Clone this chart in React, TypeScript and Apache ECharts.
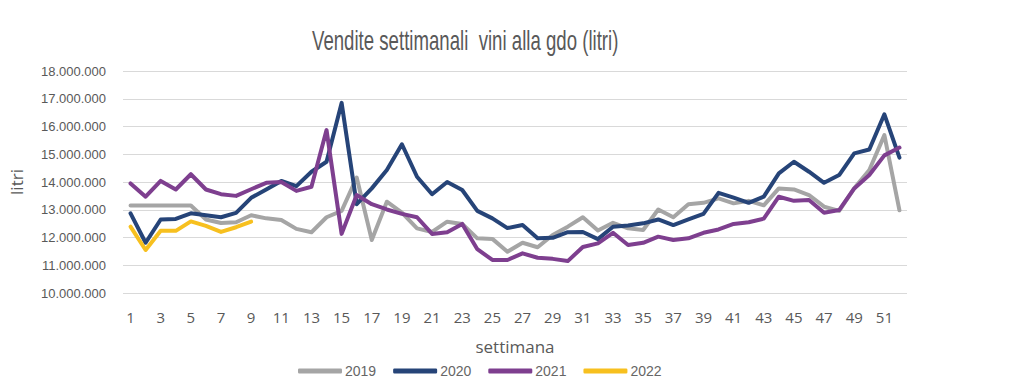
import React, { useEffect, useRef } from "react";
import * as echarts from "echarts";

const weeks = Array.from({ length: 52 }, (_, i) => String(i + 1));

const s2019 = [
  13.15, 13.15, 13.15, 13.15, 13.15, 12.65, 12.52, 12.55, 12.8, 12.69,
  12.63, 12.31, 12.19, 12.73, 12.96, 14.16, 11.91, 13.29, 12.9, 12.33,
  12.2, 12.57, 12.49, 11.97, 11.95, 11.49, 11.81, 11.65, 12.09, 12.39,
  12.73, 12.25, 12.53, 12.33, 12.27, 13.01, 12.73, 13.2, 13.25, 13.41,
  13.23, 13.32, 13.16, 13.77, 13.73, 13.53, 13.11, 12.96, 13.77, 14.43,
  15.69, 12.98,
];
const s2020 = [
  12.87, 11.81, 12.65, 12.67, 12.87, 12.8, 12.73, 12.89, 13.43, 13.73,
  14.04, 13.85, 14.37, 14.73, 16.85, 13.2, 13.77, 14.43, 15.36, 14.19,
  13.56, 14.0, 13.71, 12.96, 12.69, 12.34, 12.45, 11.97, 11.99, 12.19,
  12.2, 11.94, 12.39, 12.43, 12.51, 12.65, 12.45, 12.65, 12.85, 13.61,
  13.44, 13.25, 13.47, 14.31, 14.73, 14.37, 13.97, 14.25, 15.03, 15.17,
  16.44, 14.88,
];
const s2021 = [
  13.95, 13.47, 14.04, 13.73, 14.28, 13.73, 13.56, 13.5, 13.74, 13.97,
  14.0, 13.68, 13.83, 15.87, 12.13, 13.53, 13.2, 13.01, 12.85, 12.73,
  12.13, 12.19, 12.49, 11.58, 11.19, 11.19, 11.43, 11.27, 11.23, 11.15,
  11.66, 11.79, 12.17, 11.73, 11.81, 12.03, 11.91, 11.97, 12.17, 12.29,
  12.49, 12.55, 12.68, 13.47, 13.32, 13.35, 12.89, 12.99, 13.77, 14.25,
  14.96, 15.24,
];
const s2022 = [12.39, 11.55, 12.24, 12.24, 12.58, 12.42, 12.2, 12.37, 12.57];

const seriesNames = ["2019", "2020", "2021", "2022"];
const seriesColors = ["#A5A5A5", "#264478", "#7E3F8F", "#F7C01F"];
const seriesData = [s2019, s2020, s2021, s2022];

const titleText = "Vendite settimanali  vini alla gdo (litri)";

const fmt = (v: number) =>
  String(Math.round(v)).replace(/\B(?=(\d{3})+(?!\d))/g, ".");

export default function App() {
  const ref = useRef<HTMLDivElement>(null);
  useEffect(() => {
    document.body.style.margin = "0";
    if (!ref.current) return;
    const chart = echarts.init(ref.current, undefined, { renderer: "svg" });
    chart.setOption({
      animation: false,
      backgroundColor: "#ffffff",
      graphic: [
        {
          type: "text",
          x: 312,
          y: 27,
          scaleX: 0.69,
          style: {
            text: titleText,
            font: "27px 'Liberation Sans', Arial, sans-serif",
            fill: "#595959",
            textAlign: "left",
            textVerticalAlign: "top",
          },
        },
      ],
      legend: {
        left: 293,
        top: 359,
        icon: "roundRect",
        itemWidth: 44,
        itemHeight: 5,
        itemGap: 17,
        textStyle: {
          fontFamily: "Liberation Sans, Arial",
          fontSize: 14,
          color: "#666666",
          padding: [0, 0, 0, -2],
        },
        data: seriesNames,
      },
      grid: { left: 117, right: 117, top: 71, height: 222 },
      xAxis: {
        type: "category",
        data: weeks,
        boundaryGap: true,
        name: "settimana",
        nameLocation: "middle",
        nameGap: 45,
        nameTextStyle: {
          fontFamily: "Open Sans, sans-serif",
          fontSize: 17,
          color: "#595959",
        },
        axisLine: { show: false },
        axisTick: { show: false },
        axisLabel: {
          interval: 1,
          margin: 16,
          fontFamily: "Open Sans, sans-serif",
          fontSize: 15,
          color: "#595959",
        },
      },
      yAxis: {
        type: "value",
        min: 10000000,
        max: 18000000,
        interval: 1000000,
        name: "litri",
        nameLocation: "middle",
        nameGap: 98,
        nameRotate: 90,
        nameTextStyle: {
          fontFamily: "Open Sans, sans-serif",
          fontSize: 17,
          color: "#595959",
        },
        axisLabel: {
          formatter: fmt,
          margin: 17,
          fontFamily: "Liberation Sans, Arial",
          fontSize: 13,
          color: "#595959",
        },
        splitLine: { lineStyle: { color: "#D9D9D9", width: 1 } },
      },
      series: seriesNames.map((n, i) => ({
        name: n,
        type: "line",
        data: seriesData[i].map((v) => Math.round(v * 1000000)),
        symbol: "none",
        lineStyle: { width: 4, color: seriesColors[i], cap: "round", join: "round" },
        itemStyle: { color: seriesColors[i] },
      })),
    });
    return () => chart.dispose();
  }, []);
  return <div ref={ref} style={{ width: 1024, height: 388 }} />;
}
